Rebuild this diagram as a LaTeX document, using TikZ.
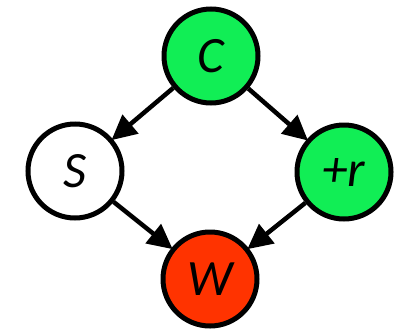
\documentclass[tikz,border=0pt]{standalone}
\usepackage{fontspec}
\setmainfont{Carlito}
\usetikzlibrary{arrows.meta}
\definecolor{nodegreen}{RGB}{17,238,85}
\definecolor{nodered}{RGB}{255,51,0}
\tikzset{
  var/.style={circle, draw=black, line width=0.1cm, minimum size=1.88cm,
    inner sep=0pt, font=\fontsize{29}{31}\selectfont\itshape},
  edge/.style={line width=0.09cm, -{Triangle[length=0.5cm,width=0.48cm]}, shorten >=-1pt}
}
\begin{document}
\begin{tikzpicture}
  \useasboundingbox (0,0) rectangle (8.12,6.66);
  \node[var, fill=nodegreen] (c) at (4.22,5.54) {C};
  \node[var, fill=white] (s) at (1.50,3.24) {S};
  \node[var, fill=nodegreen] (r) at (6.88,3.22) {+r};
  \node[var, fill=nodered] (w) at (4.20,1.08) {W};
  \draw[edge] (c) -- (s);
  \draw[edge] (c) -- (r);
  \draw[edge] (s) -- (w);
  \draw[edge] (r) -- (w);
\end{tikzpicture}
\end{document}
